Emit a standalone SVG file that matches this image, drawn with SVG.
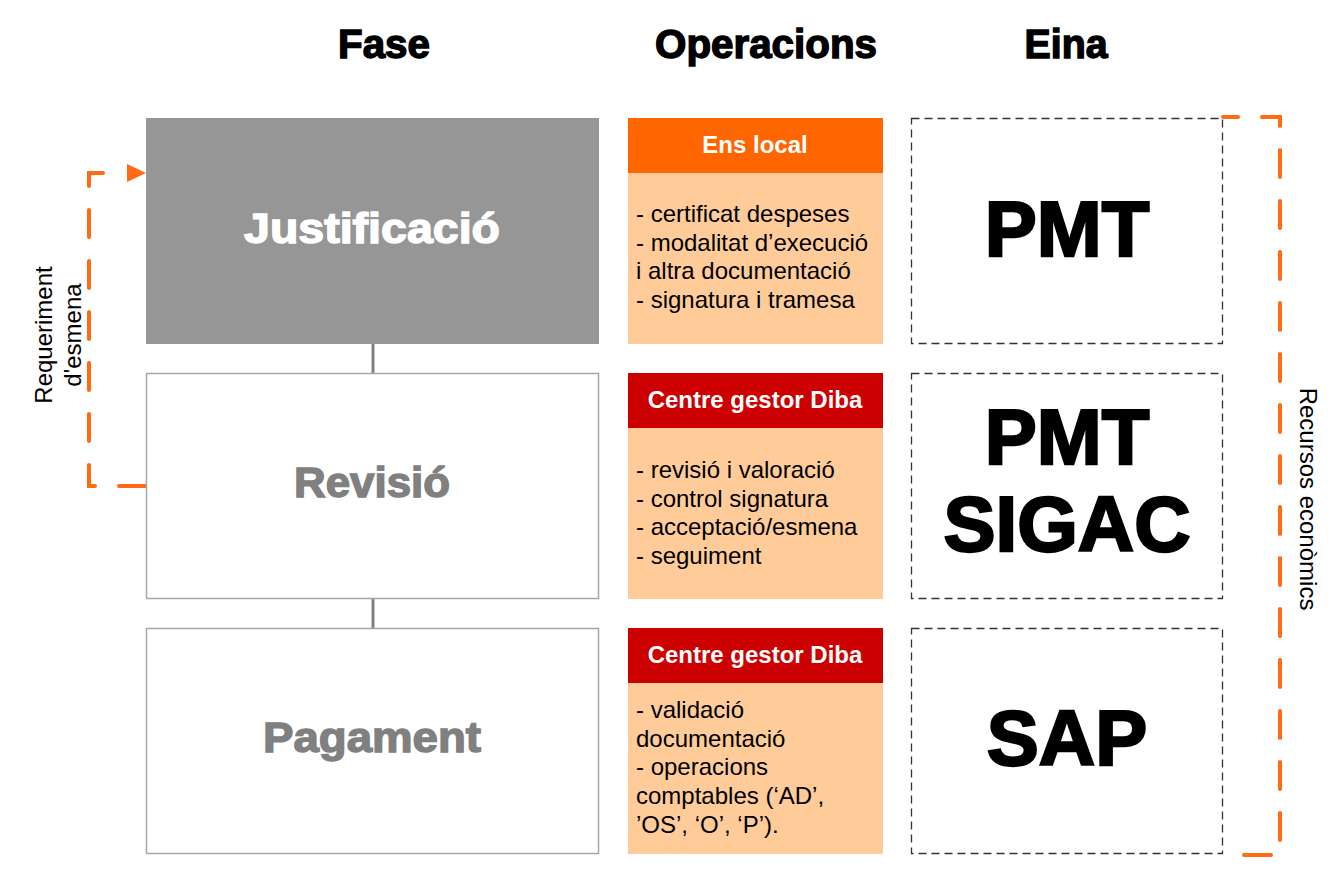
<svg xmlns="http://www.w3.org/2000/svg" width="1341" height="872" viewBox="0 0 1341 872">
<style>
text{font-family:"Liberation Sans",Arial,sans-serif}
.hd{font-size:40px;font-weight:bold;fill:#000;stroke:#000;stroke-width:1.4;text-anchor:middle}
.ph{font-size:42px;font-weight:bold;stroke-width:1.4;text-anchor:middle}
.oh{font-size:24px;font-weight:bold;fill:#fff;text-anchor:middle}
.ob{font-size:24px;fill:#000}
.tool{font-size:78px;font-weight:bold;fill:#000;stroke:#000;stroke-width:2.4;text-anchor:middle}
.lbl{font-size:24px;fill:#000;text-anchor:middle}
.dbox{fill:#fff;stroke:#333;stroke-width:1.3;stroke-dasharray:8 5}
.or{fill:none;stroke:#FF6A13;stroke-width:4;stroke-linecap:round;stroke-dasharray:27 24}
.link{stroke:#808080;stroke-width:3}
</style>
<defs>
<marker id="arr" markerUnits="userSpaceOnUse" markerWidth="20" markerHeight="20" refX="0" refY="9" orient="auto">
<path d="M0,0 L19,9 L0,18 Z" fill="#FF6A13"/>
</marker>
</defs>
<rect width="1341" height="872" fill="#fff"/>

<g id="headers">
<text class="hd" x="384" y="58" textLength="92" lengthAdjust="spacingAndGlyphs">Fase</text>
<text class="hd" x="766" y="58" textLength="222" lengthAdjust="spacingAndGlyphs">Operacions</text>
<text class="hd" x="1066" y="58" textLength="83" lengthAdjust="spacingAndGlyphs">Eina</text>
</g>

<g id="connectors">
<line class="link" x1="373" y1="344" x2="373" y2="374"/>
<line class="link" x1="373" y1="599" x2="373" y2="629"/>
<path class="or" d="M146,486 H89 V173 H127" marker-end="url(#arr)"/>
<path class="or" d="M1223,117 H1280 V855 H1223" stroke-dashoffset="12"/>
</g>

<g id="phase-justificacio">
<rect x="146" y="118" width="453" height="226" fill="#969696"/>
<text class="ph" x="372" y="243" fill="#fff" stroke="#fff" textLength="256" lengthAdjust="spacingAndGlyphs">Justificació</text>
</g>
<g id="phase-revisio">
<rect x="146.5" y="373.5" width="452" height="225" fill="#fff" stroke="#a6a6a6" stroke-width="1.5"/>
<text class="ph" x="372" y="497" fill="#808080" stroke="#808080" textLength="156" lengthAdjust="spacingAndGlyphs">Revisió</text>
</g>
<g id="phase-pagament">
<rect x="146.5" y="628.5" width="452" height="225" fill="#fff" stroke="#a6a6a6" stroke-width="1.5"/>
<text class="ph" x="372" y="752" fill="#808080" stroke="#808080" textLength="218" lengthAdjust="spacingAndGlyphs">Pagament</text>
</g>

<g id="ops-1">
<rect x="628" y="118" width="255" height="55" fill="#FF6600"/>
<rect x="628" y="173" width="255" height="171" fill="#FFCC99"/>
<text class="oh" x="755" y="153">Ens local</text>
<text class="ob" x="636" y="222">- certificat despeses</text>
<text class="ob" x="636" y="251">- modalitat d’execució</text>
<text class="ob" x="636" y="279">i altra documentació</text>
<text class="ob" x="636" y="308">- signatura i tramesa</text>
</g>
<g id="ops-2">
<rect x="628" y="373" width="255" height="55" fill="#CC0000"/>
<rect x="628" y="428" width="255" height="171" fill="#FFCC99"/>
<text class="oh" x="755" y="408">Centre gestor Diba</text>
<text class="ob" x="636" y="478">- revisió i valoració</text>
<text class="ob" x="636" y="507">- control signatura</text>
<text class="ob" x="636" y="535">- acceptació/esmena</text>
<text class="ob" x="636" y="564">- seguiment</text>
</g>
<g id="ops-3">
<rect x="628" y="628" width="255" height="55" fill="#CC0000"/>
<rect x="628" y="683" width="255" height="171" fill="#FFCC99"/>
<text class="oh" x="755" y="663">Centre gestor Diba</text>
<text class="ob" x="636" y="718">- validació</text>
<text class="ob" x="636" y="747">documentació</text>
<text class="ob" x="636" y="775">- operacions</text>
<text class="ob" x="636" y="804">comptables (‘AD’,</text>
<text class="ob" x="636" y="833">’OS’, ‘O’, ‘P’).</text>
</g>

<g id="tool-1">
<rect class="dbox" x="911.5" y="118.5" width="311" height="225"/>
<text class="tool" x="1067" y="256">PMT</text>
</g>
<g id="tool-2">
<rect class="dbox" x="911.5" y="373.5" width="311" height="225"/>
<text class="tool" x="1067" y="464">PMT</text>
<text class="tool" x="1067" y="551">SIGAC</text>
</g>
<g id="tool-3">
<rect class="dbox" x="911.5" y="628.5" width="311" height="225"/>
<text class="tool" x="1067" y="765">SAP</text>
</g>

<g id="label-requeriment">
<text class="lbl" transform="translate(52,335) rotate(-90)">Requeriment</text>
<text class="lbl" transform="translate(81,335) rotate(-90)">d'esmena</text>
</g>
<g id="label-recursos">
<text class="lbl" transform="translate(1300,499) rotate(90)">Recursos econòmics</text>
</g>
</svg>
